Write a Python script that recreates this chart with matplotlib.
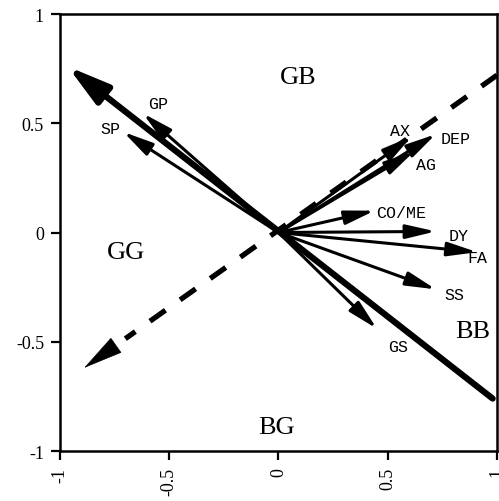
import matplotlib
matplotlib.use('Agg')
import matplotlib.pyplot as plt

# ========================
# Data
# ========================
varNames = ['GP', 'SP', 'AX', 'DEP', 'AG', 'CO/ME', 'DY', 'FA', 'SS', 'GS']
tipX = [-0.62, -0.71, 0.61, 0.72, 0.62, 0.44, 0.72, 0.91, 0.72, 0.45]
tipY = [0.545, 0.46, 0.44, 0.45, 0.37, 0.10, 0.005, -0.09, -0.26, -0.44]

# thick solid axis (arrow at upper-left end) and dashed axis (arrow at lower-left end)
solidAxisX = [0.98, -0.965]
solidAxisY = [-0.76, 0.76]
dashAxisX = [1.0, -0.89]
dashAxisY = [0.72, -0.62]

regionNames = ['GB', 'GG', 'BB', 'BG']
regionX = [0.09, -0.70, 0.89, -0.01]
regionY = [0.71, -0.09, -0.45, -0.89]

ticks = [-1, -0.5, 0, 0.5, 1]
tickLabels = ['-1', '-0.5', '0', '0.5', '1']

# label placement for each variable: (x, y, ha)
labelPos = {
    'GP': (-0.595, 0.59, 'left'),
    'SP': (-0.725, 0.475, 'right'),
    'AX': (0.60, 0.465, 'right'),
    'DEP': (0.74, 0.43, 'left'),
    'AG': (0.63, 0.31, 'left'),
    'CO/ME': (0.445, 0.09, 'left'),
    'DY': (0.78, -0.015, 'left'),
    'FA': (0.865, -0.115, 'left'),
    'SS': (0.76, -0.285, 'left'),
    'GS': (0.50, -0.52, 'left'),
}

# ========================
# Plot
# ========================
fig = plt.figure(figsize=(4.99, 5.02), dpi=100)
ax = fig.add_axes([0.1202, 0.0996, 0.8758, 0.8705])
ax.set_xlim(-1, 1)
ax.set_ylim(-1, 1)

# variable arrows from the origin
for name, x, y in zip(varNames, tipX, tipY):
    ax.annotate('', xy=(x, y), xytext=(0, 0),
                arrowprops=dict(arrowstyle='-|>,head_length=1.8,head_width=0.42',
                                mutation_scale=10, lw=2.2, color='k',
                                shrinkA=0, shrinkB=0))
    lx, ly, ha = labelPos[name]
    ax.text(lx, ly, name, ha=ha, va='center', family='Liberation Mono',
            fontsize=12, color='k')

# thick solid axis
ax.annotate('', xy=(solidAxisX[1], solidAxisY[1]), xytext=(solidAxisX[0], solidAxisY[0]),
            arrowprops=dict(arrowstyle='-|>,head_length=2.5,head_width=0.69',
                            mutation_scale=10, lw=4.5, color='k',
                            shrinkA=0, shrinkB=0, capstyle='round'))

# dashed axis: dashed body plus a solid arrowhead
def alongDash(frac):
    return (dashAxisX[0] + frac * (dashAxisX[1] - dashAxisX[0]),
            dashAxisY[0] + frac * (dashAxisY[1] - dashAxisY[0]))

endX, endY = alongDash(0.90)
headX, headY = alongDash(0.94)
ax.plot([dashAxisX[0], endX], [dashAxisY[0], endY], color='k', lw=3.8,
        dashes=(3.6, 3.4), solid_capstyle='butt', clip_on=True)
ax.annotate('', xy=(dashAxisX[1], dashAxisY[1]), xytext=(headX, headY),
            arrowprops=dict(arrowstyle='-|>,head_length=2.7,head_width=0.62',
                            mutation_scale=10, lw=0.5, color='k',
                            shrinkA=0, shrinkB=0))

for name, x, y in zip(regionNames, regionX, regionY):
    ax.text(x, y, name, ha='center', va='center', family='Liberation Serif',
            fontsize=19, color='k')

ax.set_xticks(ticks)
ax.set_xticklabels(tickLabels, rotation=90, family='Liberation Serif', fontsize=13)
ax.set_yticks(ticks)
ax.set_yticklabels(tickLabels, family='Liberation Serif', fontsize=13)
ax.tick_params(direction='out', length=6.5, width=1.6, pad=5)
for s in ax.spines.values():
    s.set_linewidth(1.8)

fig.savefig('out.png', dpi=100)
